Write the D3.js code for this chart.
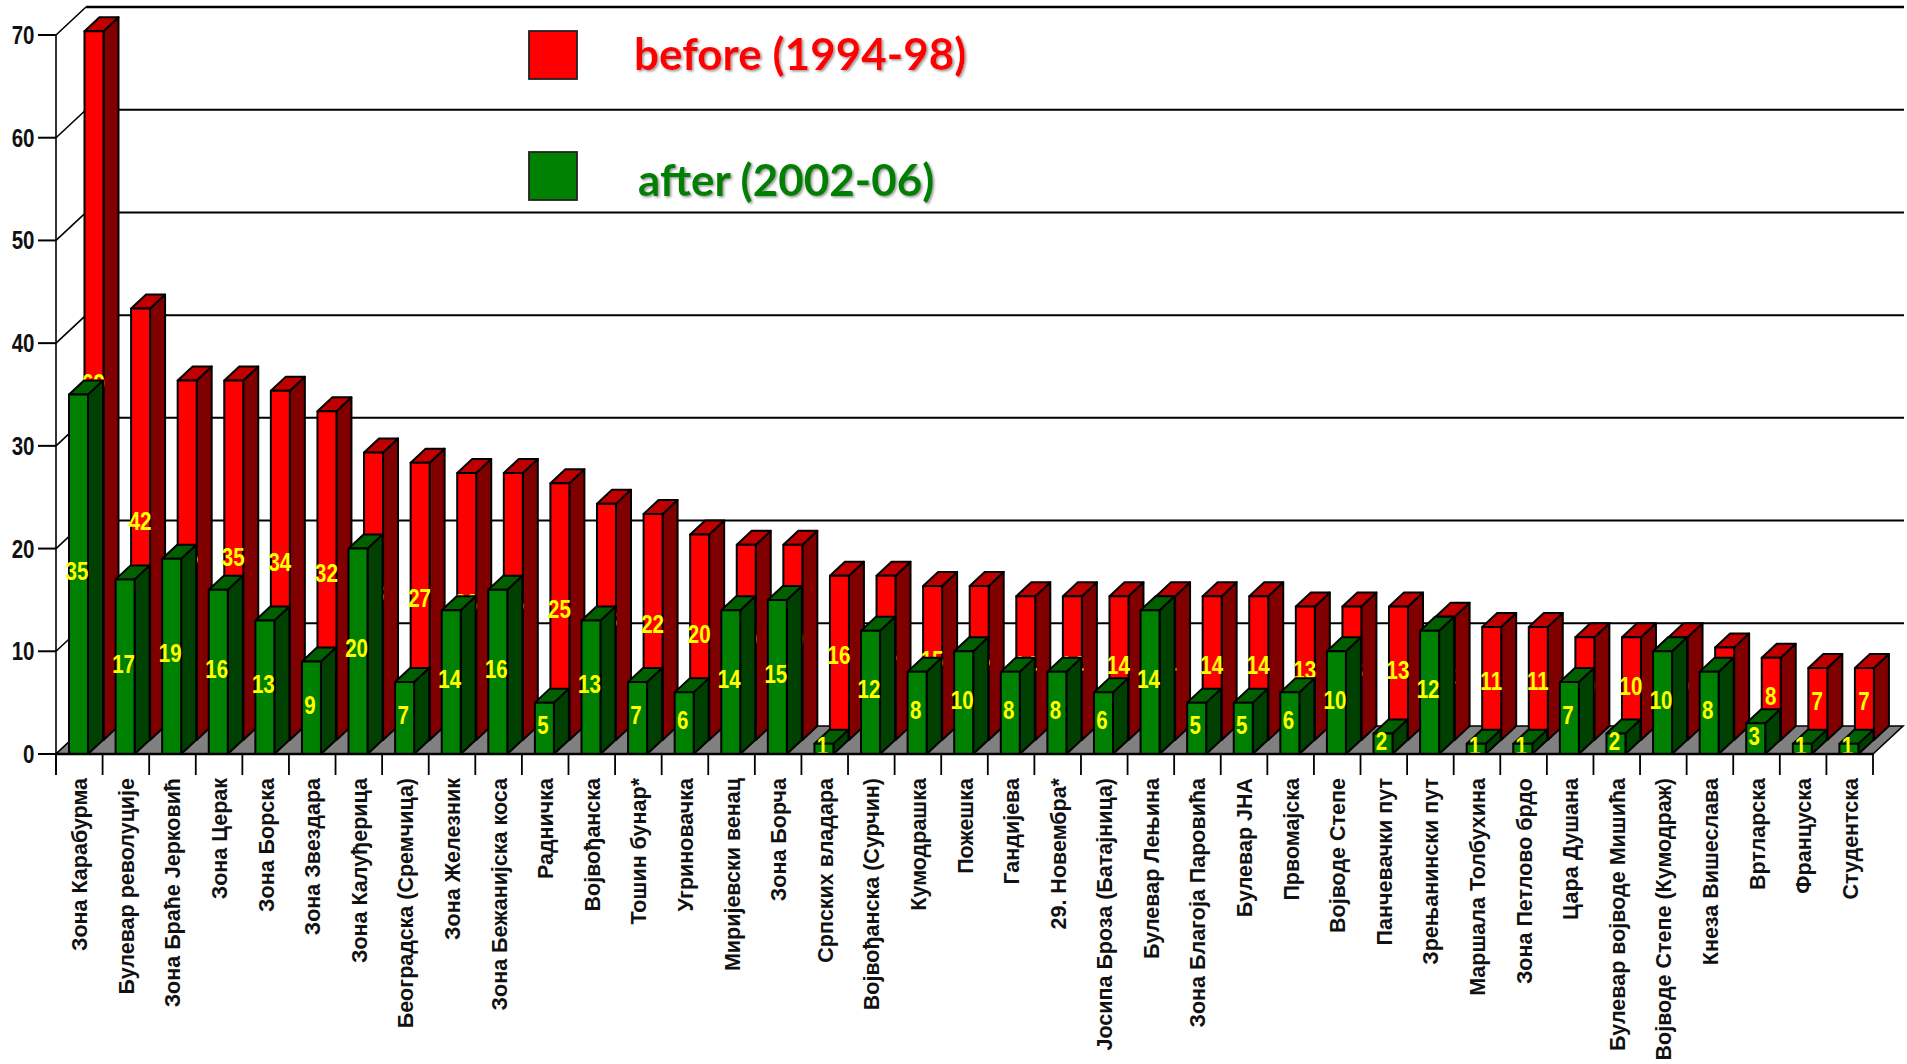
<!DOCTYPE html>
<html>
<head>
<meta charset="utf-8">
<script src="https://cdn.jsdelivr.net/npm/d3@7"></script>
<style>
  html, body { margin: 0; background: white; }
  svg { display: block; }
  text { font-family: "Liberation Sans", Arial, sans-serif; font-weight: bold; }
</style>
</head>
<body>
<div id="chart"></div>
<script>
const streets = [
  "Зона Карабурма", "Булевар револуције", "Зона Браће Јерковић", "Зона Церак", "Зона Борска",
  "Зона Звездара", "Зона Калуђерица", "Београдска (Сремчица)", "Зона Железник", "Зона Бежанијска коса",
  "Радничка", "Војвођанска", "Тошин бунар*", "Угриновачка", "Миријевски венац",
  "Зона Борча", "Српских владара", "Војвођанска (Сурчин)", "Кумодрашка", "Пожешка",
  "Гандијева", "29. Новембра*", "Јосипа Броза (Батајница)", "Булевар Лењина", "Зона Благоја Паровића",
  "Булевар ЈНА", "Првомајска", "Војводе Степе", "Панчевачки пут", "Зрењанински пут",
  "Маршала Толбухина", "Зона Петлово брдо", "Цара Душана", "Булевар војводе Мишића", "Војводе Степе (Кумодраж)",
  "Кнеза Вишеслава", "Вртларска", "Француска", "Студентска"
];
const before = [69, 42, 35, 35, 34, 32, 28, 27, 26, 26, 25, 23, 22, 20, 19, 19, 16, 16, 15, 15, 14, 14, 14, 14, 14, 14, 13, 13, 13, 12, 11, 11, 10, 10, 10, 9, 8, 7, 7];
const after = [35, 17, 19, 16, 13, 9, 20, 7, 14, 16, 5, 13, 7, 6, 14, 15, 1, 12, 8, 10, 8, 8, 6, 14, 5, 5, 6, 10, 2, 12, 1, 1, 7, 2, 10, 8, 3, 1, 1];
const yTicks = [0, 10, 20, 30, 40, 50, 60, 70];

const width = 1907;
const height = 1064;
const depthX = 30;
const depthY = 28;
const barW = 19;

const svg = d3.select("#chart").append("svg")
  .attr("width", width)
  .attr("height", height);

const x = d3.scaleBand().domain(streets).range([56, 1873]);
const y = d3.scaleLinear().domain([0, 70]).range([754, 35]);

const line = (x1, y1, x2, y2, sw = 1.6) => svg.append("line")
  .attr("x1", x1).attr("y1", y1).attr("x2", x2).attr("y2", y2)
  .attr("stroke", "#000").attr("stroke-width", sw);

// back wall gridlines and the diagonals on the left wall
yTicks.forEach(t => {
  if (t > 0) line(x.range()[0] + depthX, y(t) - depthY, 1904, y(t) - depthY, t === 70 ? 2.4 : 2);
  line(x.range()[0], y(t), x.range()[0] + depthX, y(t) - depthY);
  line(38, y(t), x.range()[0], y(t), 2);
});
line(x.range()[0], y(70), x.range()[0], y(0) + 21);

// floor
svg.append("polygon")
  .attr("points", [
    [x.range()[0], y(0)], [x.range()[1], y(0)],
    [x.range()[1] + depthX, y(0) - depthY], [x.range()[0] + depthX, y(0) - depthY]
  ].join(" "))
  .attr("fill", "#808080")
  .attr("stroke", "#000")
  .attr("stroke-width", 1.6);

function drawBars(values, shift, labelShift, colors) {
  const dx = depthX / 2;
  const dy = depthY / 2;
  const g = svg.append("g")
    .attr("stroke", "#000")
    .attr("stroke-width", 2)
    .attr("stroke-linejoin", "round");
  const bars = g.selectAll("g")
    .data(values.map((v, i) => ({ v, name: streets[i] })))
    .join("g")
    .attr("transform", d => `translate(${x(d.name) + 13 + shift},${-dy * (shift > 0 ? 1 : 0)})`);

  bars.append("polygon").attr("fill", colors[2])
    .attr("points", d => [[barW, y(d.v)], [barW + dx, y(d.v) - dy], [barW + dx, y(0) - dy], [barW, y(0)]].join(" "));
  bars.append("polygon").attr("fill", colors[1])
    .attr("points", d => [[0, y(d.v)], [dx, y(d.v) - dy], [barW + dx, y(d.v) - dy], [barW, y(d.v)]].join(" "));
  bars.append("rect").attr("fill", colors[0])
    .attr("x", 0)
    .attr("width", barW)
    .attr("y", d => y(d.v))
    .attr("height", d => y(0) - y(d.v));

  svg.append("g").selectAll("text")
    .data(values.map((v, i) => ({ v, name: streets[i] })))
    .join("text")
    .attr("text-anchor", "middle")
    .attr("fill", "#ffff00")
    .style("font-size", "25px")
    .attr("transform", d => `translate(${x(d.name) + 13 + shift + labelShift + barW / 2},${(y(d.v) + y(0)) / 2 - (shift > 0 ? dy : 0) + 6}) scale(0.82,1)`)
    .text(d => d.v);
}

drawBars(before, 15.5, -0.5, ["#ff0000", "#c00000", "#800000"]);
drawBars(after, 0, -1.5, ["#008000", "#006000", "#004000"]);

// axis line over the bar feet
line(x.range()[0], y(0), x.range()[1], y(0), 2.4);

streets.concat("end").forEach(s => {
  const tx = s === "end" ? x.range()[1] : x(s);
  line(tx, y(0), tx, y(0) + 21, 1.8);
});

svg.append("g").selectAll("text")
  .data(yTicks)
  .join("text")
  .attr("text-anchor", "end")
  .attr("fill", "#111")
  .style("font-size", "25px")
  .attr("transform", d => `translate(34.5,${y(d) + 9}) scale(0.82,1)`)
  .text(d => d);

svg.append("g").selectAll("text")
  .data(streets)
  .join("text")
  .attr("text-anchor", "end")
  .attr("fill", "#111")
  .style("font-size", "21.5px")
  .attr("transform", d => `translate(${x(d) + x.bandwidth() / 2 + 8},778) rotate(-90)`)
  .text(d => d);

// legend
const legendItems = ["before (1994-98)", "after (2002-06)"];
const legendColors = ["#ff0000", "#008000"];
const legendX = [634, 638];
const legendY = [70, 196];
const boxY = [31, 152];

svg.append("defs").append("filter")
  .attr("id", "soft")
  .attr("x", "-5%").attr("y", "-10%").attr("width", "110%").attr("height", "130%")
  .append("feDropShadow")
  .attr("dx", 1.5).attr("dy", 1.5).attr("stdDeviation", 1)
  .attr("flood-color", "#999");

legendItems.forEach((label, i) => {
  svg.append("rect")
    .attr("x", 529).attr("y", boxY[i])
    .attr("width", 48).attr("height", 48)
    .attr("fill", legendColors[i])
    .attr("stroke", "#222")
    .attr("stroke-width", 1.8);
  svg.append("text")
    .attr("x", legendX[i]).attr("y", legendY[i])
    .attr("fill", legendColors[i])
    .attr("filter", "url(#soft)")
    .style("font-family", "Lato, sans-serif")
    .style("font-size", "44px")
    .text(label);
});
</script>
</body>
</html>
